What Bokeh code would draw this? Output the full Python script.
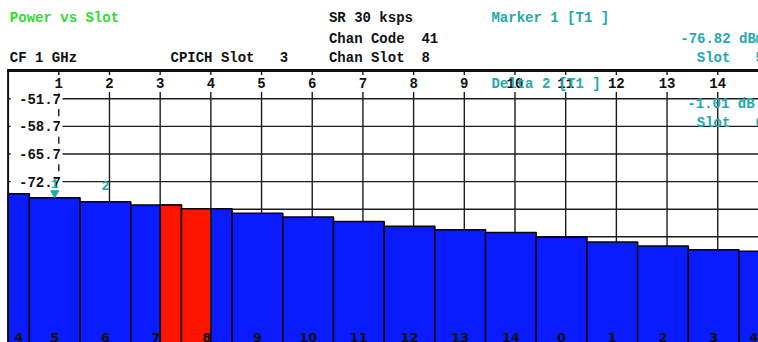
from bokeh.plotting import figure
from bokeh.models import Range1d
from bokeh.core.properties import value
from bokeh.embed import file_html
from bokeh.resources import INLINE

NB = "\u00a0"

# ---- data ----
slot_labels = ["4", "5", "6", "7", "8", "9", "10", "11", "12", "13", "14", "0", "1", "2", "3", "4"]
power_dbm = [-75.8, -76.82, -77.83, -78.6, -79.6, -80.7, -81.7, -82.8,
             -84.0, -84.9, -85.6, -86.8, -88.0, -89.0, -90.0, -90.35]
x_ticks = list(range(1, 15))
y_ticks = [-51.7, -58.7, -65.7, -72.7, -79.7, -86.7, -93.7, -100.7, -107.7]
y_tick_labels = ["%.1f" % v for v in y_ticks]
highlight = (3.0, 4.0)          # red (CPICH) region on the slot axis
marker1_idx, marker2_idx = 1, 2  # bars carrying marker 1 and delta marker 2

header_black = [("SR 30 ksps", 6.33, -31.33), ("Chan Code  41", 6.33, -36.41),
                ("CF 1 GHz", 0.034, -41.35), ("CPICH Slot   3", 3.204, -41.35),
                ("Chan Slot  8", 6.33, -41.35)]
header_teal = [("Marker 1 [T1 ]", 9.536, -31.33), ("-76.82 dBm", 13.26, -36.41),
               ("Slot   5", 13.586, -41.35), ("Delta 2 [T1 ]", 9.536, -47.9),
               ("-1.01 dB", 13.4, -52.97), ("Slot   6", 13.586, -57.79)]
title_text = "Power vs Slot"

# ---- style ----
MONO = "Liberation Mono"
TEAL = "#22a9a9"
GREEN = "#2edc2e"
BLUE = "#0a1cff"
RED = "#ff1400"
GRID = "#1c1c1c"
X0, X1 = 0.0, 15.0          # instrument frame on slot axis
FRAME_TOP = -44.55
GRID_TOP = -50.0
BOTTOM = -125.0
BAR_OFF = -0.58              # left edge of bar i = i + BAR_OFF


def nb(s):
    return s.replace(" ", NB)


p = figure(width=758, height=342, output_backend="svg", toolbar_location=None,
           x_range=Range1d(-0.150, 14.804), y_range=Range1d(-113.5, -26.77),
           x_axis_type=None, y_axis_type=None, min_border=0,
           outline_line_color=None, background_fill_color="white",
           border_fill_color="white")

# horizontal grid lines
p.segment(x0=[1.073] * len(y_ticks), x1=[X1] * len(y_ticks), y0=y_ticks, y1=y_ticks,
          line_color=GRID, line_width=1.4)
# left tick marks
p.segment(x0=[X0] * len(y_ticks), x1=[0.05] * len(y_ticks), y0=y_ticks, y1=y_ticks,
          line_color=GRID, line_width=1.4)
# vertical grid lines (first one dashed)
vx = x_ticks[1:]
p.segment(x0=vx, x1=vx, y0=[GRID_TOP] * len(vx), y1=[BOTTOM] * len(vx),
          line_color=GRID, line_width=1.4)
dash_y0, dash_y1 = [GRID_TOP - 0.3], [GRID_TOP - 1.3]
for a, b in zip(y_ticks[:3], y_ticks[1:4]):
    mid = (a + b) / 2
    dash_y0.append(mid + 0.9)
    dash_y1.append(mid - 0.9)
p.segment(x0=[x_ticks[0]] * len(dash_y0), x1=[x_ticks[0]] * len(dash_y0),
          y0=dash_y0, y1=dash_y1, line_color=GRID, line_width=1.4)
# top tick marks
p.segment(x0=x_ticks, x1=x_ticks, y0=[FRAME_TOP] * len(x_ticks),
          y1=[FRAME_TOP - 1.1] * len(x_ticks), line_color=GRID, line_width=1.4)

# y tick labels
p.text(x=[1.044] * len(y_ticks), y=y_ticks, text=y_tick_labels,
       text_font=value(MONO), text_font_size="14px", text_font_style="bold",
       text_color="#111111", text_align="right", text_baseline="middle")
# x tick labels (top)
p.text(x=x_ticks, y=[-47.8] * len(x_ticks), text=[str(t) for t in x_ticks],
       text_font=value(MONO), text_font_size="14px", text_font_style="bold",
       text_color="#111111", text_align="center", text_baseline="middle")

# bars (clipped to frame)
lefts, rights = [], []
for i in range(len(power_dbm)):
    lefts.append(max(i + BAR_OFF, X0))
    rights.append(min(i + BAR_OFF + 1, X1))
p.quad(left=lefts, right=rights, top=power_dbm, bottom=[BOTTOM] * len(power_dbm),
       fill_color=BLUE, line_color="#050505", line_width=1.5)

# red highlighted region
rl, rr, rt = [], [], []
for l, r, v in zip(lefts, rights, power_dbm):
    a, b = max(l, highlight[0]), min(r, highlight[1])
    if b > a:
        rl.append(a); rr.append(b); rt.append(v)
p.quad(left=rl, right=rr, top=rt, bottom=[BOTTOM] * len(rl),
       fill_color=RED, line_color="#050505", line_width=1.5)

# slot labels at bottom of bars
centers = [(l + r) / 2 for l, r in zip(lefts, rights)]
p.text(x=centers, y=[-111.2] * len(centers), text=slot_labels,
       text_font=value("DejaVu Sans"), text_font_size="13px", text_font_style="bold",
       text_color="#111111", text_align="center", text_baseline="top")

# markers
m1x = centers[marker1_idx]
m2x = centers[marker2_idx]
p.scatter(x=[m1x], y=[power_dbm[marker1_idx] + 1.2], marker="inverted_triangle", size=8,
          fill_color=TEAL, line_color=TEAL)
p.text(x=[m1x, m2x], y=[power_dbm[marker1_idx] + 3.6, power_dbm[marker2_idx] + 4.1],
       text=["1", "2"], text_font=value(MONO), text_font_size="13px",
       text_font_style="bold", text_color=TEAL, text_align="center",
       text_baseline="middle")

# frame
p.line(x=[X0, X0], y=[FRAME_TOP, BOTTOM], line_color="#111111", line_width=2)
p.line(x=[X0 - 0.02, X1], y=[FRAME_TOP, FRAME_TOP], line_color="#111111", line_width=3)

# header texts
p.text(x=[0.034], y=[-31.33], text=[nb(title_text)], text_font=value(MONO),
       text_font_size="14px", text_font_style="bold", text_color=GREEN,
       text_align="left", text_baseline="middle")
p.text(x=[h[1] for h in header_black], y=[h[2] for h in header_black],
       text=[nb(h[0]) for h in header_black], text_font=value(MONO),
       text_font_size="14px", text_font_style="bold", text_color="#111111",
       text_align="left", text_baseline="middle")
p.text(x=[h[1] for h in header_teal], y=[h[2] for h in header_teal],
       text=[nb(h[0]) for h in header_teal], text_font=value(MONO),
       text_font_size="14px", text_font_style="bold", text_color=TEAL,
       text_align="left", text_baseline="middle")

open("out.html", "w").write(file_html(p, INLINE))
